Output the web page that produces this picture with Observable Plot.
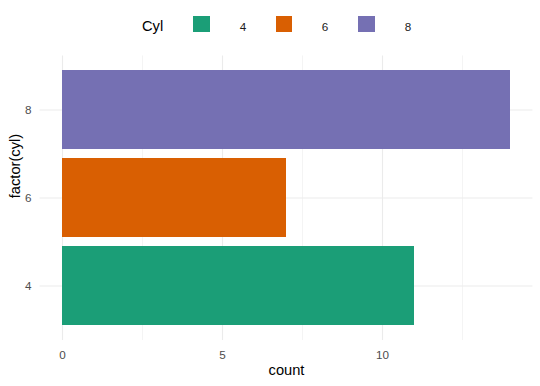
<!DOCTYPE html>
<html>
<head>
<meta charset="utf-8">
<script src="https://cdn.jsdelivr.net/npm/d3@7"></script>
<script src="https://cdn.jsdelivr.net/npm/@observablehq/plot@0.6"></script>
<style>
  html, body { margin: 0; padding: 0; background: #fff; }
  body { width: 540px; height: 386px; overflow: hidden; font-family: "Liberation Sans", Arial, sans-serif; }
  #legend { position: relative; width: 540px; height: 48px; }
  #legend .t { position: absolute; transform: translate(0, -50%); white-space: nowrap; }
  #legend .lab { position: absolute; transform: translate(-50%, -50%); font-size: 11.7px; color: #1a1a1a; }
  #legend .key { position: absolute; width: 16.5px; height: 16.5px; }
  svg { display: block; }
</style>
</head>
<body>
<div id="legend"></div>
<div id="chart"></div>
<script>
const cylLevels = ["4", "6", "8"];
const counts = [11, 7, 14];
const palette = ["#1B9E77", "#D95F02", "#7570B3"];
const majorTicks = [0, 5, 10];
const minorTicks = [2.5, 7.5, 12.5];
const legendTitle = "Cyl";
const xTitle = "count";
const yTitle = "factor(cyl)";

const data = cylLevels.map((c, i) => ({cyl: c, count: counts[i]}));

// Legend (HTML, above the SVG)
const legend = document.getElementById("legend");
const title = document.createElement("div");
title.className = "t";
title.style.left = "142px";
title.style.top = "25.7px";
title.style.fontSize = "14.67px";
title.style.color = "#000";
title.textContent = legendTitle;
legend.appendChild(title);
const keyLefts = [193, 275.5, 358];
const labCenters = [243, 325, 408];
cylLevels.forEach((c, i) => {
  const k = document.createElement("div");
  k.className = "key";
  k.style.left = keyLefts[i] + "px";
  k.style.top = "15.7px";
  k.style.background = palette[i];
  legend.appendChild(k);
  const l = document.createElement("div");
  l.className = "lab";
  l.style.left = labCenters[i] + "px";
  l.style.top = "25.7px";
  l.textContent = c;
  legend.appendChild(l);
});

const chart = Plot.plot({
  width: 540,
  height: 338,
  marginLeft: 39.6,
  marginRight: 7.6,
  marginTop: 7.4,
  marginBottom: 46,
  style: {fontFamily: "'Liberation Sans', Arial, sans-serif", background: "#fff"},
  x: {domain: [-0.7, 14.7]},
  y: {domain: ["8", "6", "4"], paddingInner: 0.1, paddingOuter: 0.15},
  color: {domain: cylLevels, range: palette},
  marks: [
    Plot.ruleX(minorTicks, {stroke: "#ebebeb", strokeWidth: 0.55}),
    Plot.ruleX(majorTicks, {stroke: "#ebebeb", strokeWidth: 1.1}),
    Plot.gridY({stroke: "#ebebeb", strokeOpacity: 1, strokeWidth: 1.1}),
    Plot.barX(data, {x: "count", y: "cyl", fill: "cyl"}),
    Plot.axisX(majorTicks, {tickSize: 0, tickPadding: 10, fontSize: 11.7, fill: "#4d4d4d", label: null}),
    Plot.axisY({tickSize: 0, tickPadding: 8.5, fontSize: 11.7, fill: "#4d4d4d", label: null}),
    Plot.text([xTitle], {frameAnchor: "bottom", dy: 34, fontSize: 14.67, fill: "#000", text: d => d}),
    Plot.text([yTitle], {frameAnchor: "left", dx: -24.6, rotate: -90, fontSize: 14.67, fill: "#000", text: d => d})
  ]
});
document.getElementById("chart").appendChild(chart);
</script>
</body>
</html>
